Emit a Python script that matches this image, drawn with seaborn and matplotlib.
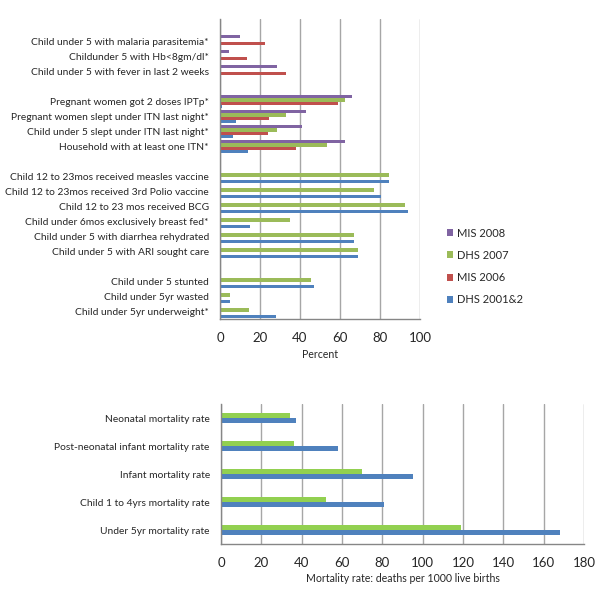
import numpy as np
import pandas as pd
import matplotlib
matplotlib.use("Agg")
import matplotlib.pyplot as plt
import seaborn as sns

nan = np.nan

# top panel: coverage indicators (percent); empty labels are spacer rows
top_labels = [
    "",
    "Child under 5 with malaria parasitemia*",
    "Childunder 5 with Hb<8gm/dl*",
    "Child under 5 with fever in last 2 weeks",
    "",
    "Pregnant women got 2 doses IPTp*",
    "Pregnant women slept under ITN last night*",
    "Child under 5 slept under ITN last night*",
    "Household with at least one ITN*",
    "",
    "Child 12 to 23mos received measles vaccine",
    "Child 12 to 23mos received 3rd Polio vaccine",
    "Child 12 to 23 mos received BCG",
    "Child under 6mos exclusively breast fed*",
    "Child under 5 with diarrhea rehydrated",
    "Child under 5 with ARI sought care",
    "",
    "Child under 5 stunted",
    "Child under 5yr wasted",
    "Child under 5yr underweight*",
]
mis_2008 = [nan, 10, 4.5, 28.5, nan, 66, 43, 41, 62.5, nan,
            nan, nan, nan, nan, nan, nan, nan, nan, nan, nan]
dhs_2007 = [nan, nan, nan, nan, nan, 62.5, 33, 28.5, 53.5, nan,
            84.5, 77, 92.5, 35, 67, 69, nan, 45.5, 5, 14.5]
mis_2006 = [nan, 22.5, 13.5, 33, nan, 59, 24.5, 24, 38, nan,
            nan, nan, nan, nan, nan, nan, nan, nan, nan, nan]
dhs_2001 = [nan, nan, nan, nan, nan, 0.8, 8, 6.5, 14, nan,
            84.5, 80.5, 94, 15, 67, 69, nan, 47, 5, 28]
top_series = ["MIS 2008", "DHS 2007", "MIS 2006", "DHS 2001&2"]
top_ticks = [0, 20, 40, 60, 80, 100]

# bottom panel: mortality rates per 1000 live births
mort_labels = [
    "Neonatal mortality rate",
    "Post-neonatal infant mortality rate",
    "Infant mortality rate",
    "Child 1 to 4yrs mortality rate",
    "Under 5yr mortality rate",
]
mort_dhs_2007 = [34, 36, 70, 52, 119]
mort_dhs_2001 = [37, 58, 95, 81, 168]
mort_series = ["DHS 2007", "DHS 2001&2"]
mort_ticks = [0, 20, 40, 60, 80, 100, 120, 140, 160, 180]

top_colors = {"MIS 2008": "#8064A2", "DHS 2007": "#9BBB59",
              "MIS 2006": "#C0504D", "DHS 2001&2": "#4F81BD"}
mort_colors = {"DHS 2007": "#92D050", "DHS 2001&2": "#4F81BD"}

sns.set_style("white")
plt.rcParams["font.family"] = ["Lato", "DejaVu Sans"]

# spacer rows need unique names for the category order
keys = [lab if lab else " " * (i + 1) for i, lab in enumerate(top_labels)]
top_df = pd.DataFrame({
    "item": keys * 4,
    "survey": np.repeat(top_series, len(keys)),
    "value": mis_2008 + dhs_2007 + mis_2006 + dhs_2001,
}).dropna()

mort_df = pd.DataFrame({
    "item": mort_labels * 2,
    "survey": np.repeat(mort_series, len(mort_labels)),
    "value": mort_dhs_2007 + mort_dhs_2001,
})

fig = plt.figure(figsize=(6, 6), dpi=100)
ax1 = fig.add_axes([0.3667, 0.4683, 0.3333, 0.5])
ax2 = fig.add_axes([0.3683, 0.0933, 0.605, 0.2333])

sns.barplot(data=top_df, y="item", x="value", hue="survey", order=keys,
            hue_order=top_series, palette=top_colors, orient="h", width=0.93,
            saturation=1, errorbar=None, linewidth=0, ax=ax1)
sns.barplot(data=mort_df, y="item", x="value", hue="survey", order=mort_labels,
            hue_order=mort_series, palette=mort_colors, orient="h", width=0.38,
            saturation=1, errorbar=None, linewidth=0, legend=False, ax=ax2)

for ax, ticks, n in [(ax1, top_ticks, len(keys)), (ax2, mort_ticks, len(mort_labels))]:
    ax.set_xlim(ticks[0], ticks[-1])
    ax.set_xticks(ticks)
    ax.set_ylabel("")
    ax.set_axisbelow(True)
    ax.xaxis.grid(True, color="#A6A6A6", linewidth=1)
    ax.yaxis.grid(False)
    for side in ["top", "right"]:
        ax.spines[side].set_visible(False)
    for side in ["left", "bottom"]:
        ax.spines[side].set_color("#868686")
        ax.spines[side].set_linewidth(1)
    ax.set_yticks(np.arange(n + 1) - 0.5, minor=True)
    ax.tick_params(axis="y", which="major", length=0, pad=8, labelsize=7.4)
    ax.tick_params(axis="y", which="minor", length=3, color="#868686", direction="out")
    ax.tick_params(axis="x", length=3, color="#868686", direction="out",
                   pad=6, labelsize=9.5)

ax1.set_xlabel("Percent", fontsize=7.6, labelpad=4)
ax2.set_xlabel("Mortality rate: deaths per 1000 live births", fontsize=7.6, labelpad=3)

handles, labels = ax1.get_legend_handles_labels()
ax1.legend(handles, labels, loc="center left", bbox_to_anchor=(0.728, 0.556),
           bbox_transform=fig.transFigure, frameon=False, fontsize=8,
           handlelength=0.6, handleheight=0.6, handletextpad=0.3,
           labelspacing=1.0)

fig.savefig("out.png", dpi=100)
